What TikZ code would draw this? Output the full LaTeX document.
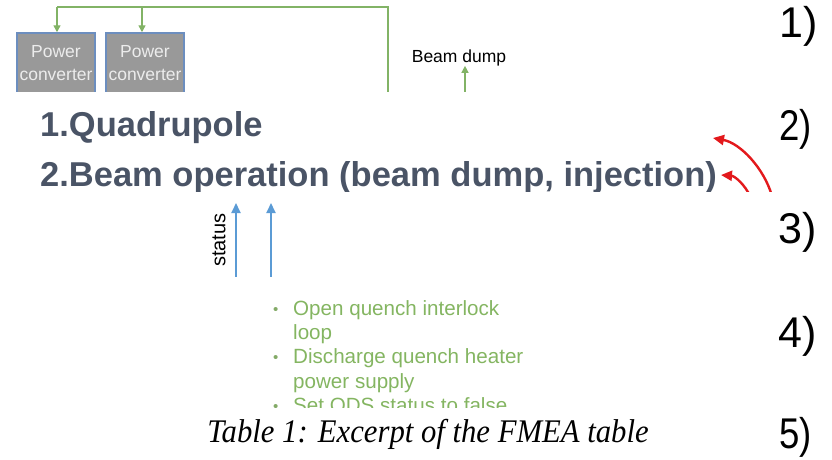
\documentclass[tikz,border=0pt]{standalone}
\usepackage{fontspec}
\setmainfont{Liberation Sans}
\newfontfamily\capfont{Liberation Serif}
\usetikzlibrary{arrows.meta}

\definecolor{pcfill}{HTML}{999999}
\definecolor{pcedge}{HTML}{6C8EBF}
\definecolor{pctext}{HTML}{ECECEC}
\definecolor{gline}{HTML}{82B366}
\definecolor{gtext}{HTML}{84B561}
\definecolor{slate}{HTML}{4A5466}
\definecolor{redarr}{HTML}{E3191C}
\definecolor{bluearr}{HTML}{5B9BD5}

\tikzset{
  pcbox/.style={draw=pcedge, line width=1.5pt, fill=pcfill, text=pctext,
    minimum width=78pt, minimum height=60pt, align=center, inner sep=0pt,
    font=\fontsize{17.5}{23}\selectfont},
  greenwire/.style={draw=gline, line width=1.4pt},
  greenarrow/.style={greenwire, -{Triangle[length=7pt,width=7pt]}},
  redcurve/.style={draw=redarr, line width=2.4pt, -{Triangle[length=11pt,width=10pt]}},
  bluearrow/.style={draw=bluearr, line width=2pt, -{Triangle[length=10pt,width=9pt]}},
  numlabel/.style={anchor=base west, inner sep=0pt, font=\fontsize{43}{43}\selectfont},
  headline/.style={anchor=base west, inner sep=0pt, text=slate, font=\bfseries\fontsize{34.5}{34.5}\selectfont},
  bullettext/.style={anchor=base west, inner sep=0pt, text=gtext, font=\fontsize{20.6}{20.6}\selectfont},
  bulletdot/.style={anchor=base west, inner sep=0pt, text=gtext!80!gray, font=\fontsize{15}{15}\selectfont},
}

\begin{document}
\begin{tikzpicture}[x=1pt,y=-1pt]
\useasboundingbox (0,0) rectangle (832,459);

% ---- part 1: power converters and beam dump
\begin{scope}
  \clip (0,0) rectangle (832,91);
  \node[pcbox] (pc1) at (56,63) {Power\\converter};
  \node[pcbox] (pc2) at (145,63) {Power\\converter};
  \coordinate (busL) at (57,7);
  \coordinate (busM) at (142,7);
  \coordinate (busR) at (388,7);
  \coordinate (busEnd) at (388,96);
  \draw[greenwire] (busEnd) -- (busR) -- (busL);
  \draw[greenarrow] (busL) -- (busL |- pc1.north);
  \draw[greenarrow] (busM) -- (busM |- pc2.north);
  \node[anchor=base, inner sep=0pt, font=\fontsize{17.5}{17.5}\selectfont] (bd) at (459,62) {Beam dump};
  \coordinate (bdIn) at (465,96);
  \draw[greenarrow] (bdIn) -- (bdIn |- bd.south);
\end{scope}
\node[numlabel] (n1) at (779,37) {1)};

% ---- part 2: list of subsystems
\begin{scope}
  \clip (0,95) rectangle (832,191);
  \node[headline] (quad) at (40,136) {1.Quadrupole};
  \node[headline] (beam) at (40,186) {2.Beam operation (beam dump, injection)};
  \coordinate (r1) at (772,196);
  \coordinate (r1tip) at (713,138);
  \coordinate (r2) at (750,196);
  \coordinate (r2tip) at (721,175);
  \draw[redcurve] (r1) .. controls (764,168) and (740,143) .. (r1tip);
  \draw[redcurve] (r2) .. controls (745,185) and (735,176) .. (r2tip);
\end{scope}
\node[numlabel, xscale=0.85] (n2) at (779,140) {2)};

% ---- part 3: status signals
\begin{scope}
  \clip (0,196) rectangle (832,276);
  \coordinate (s1) at (236,280);
  \coordinate (s2) at (271,280);
  \draw[bluearrow] (s1) -- (236,203);
  \draw[bluearrow] (s2) -- (271,203);
  \node[rotate=90, inner sep=0pt, font=\fontsize{20}{20}\selectfont] (status) at (219,240) {status};
\end{scope}
\node[numlabel] (n3) at (778,243) {3)};

% ---- part 4: protection actions
\begin{scope}
  \clip (0,286) rectangle (832,407);
  \node[bulletdot] (b1) at (273,314) {•};
  \node[bullettext] (t1) at (293,315) {Open quench interlock};
  \node[bullettext] (t1b) at (293,339) {loop};
  \node[bulletdot] (b2) at (273,362) {•};
  \node[bullettext] (t2) at (293,363) {Discharge quench heater};
  \node[bullettext] (t2b) at (293,388) {power supply};
  \node[bulletdot] (b3) at (273,411) {•};
  \node[bullettext] (t3) at (293,412) {Set ODS status to false};
\end{scope}
\node[numlabel] (n4) at (778,347) {4)};

% ---- part 5: caption
\node[anchor=base, inner sep=0pt, xscale=0.93, font=\capfont\itshape\fontsize{33}{33}\selectfont] (cap) at (428,442) {Table 1: Excerpt of the FMEA table};
\node[numlabel, xscale=0.85] (n5) at (779,448) {5)};
\end{tikzpicture}
\end{document}
